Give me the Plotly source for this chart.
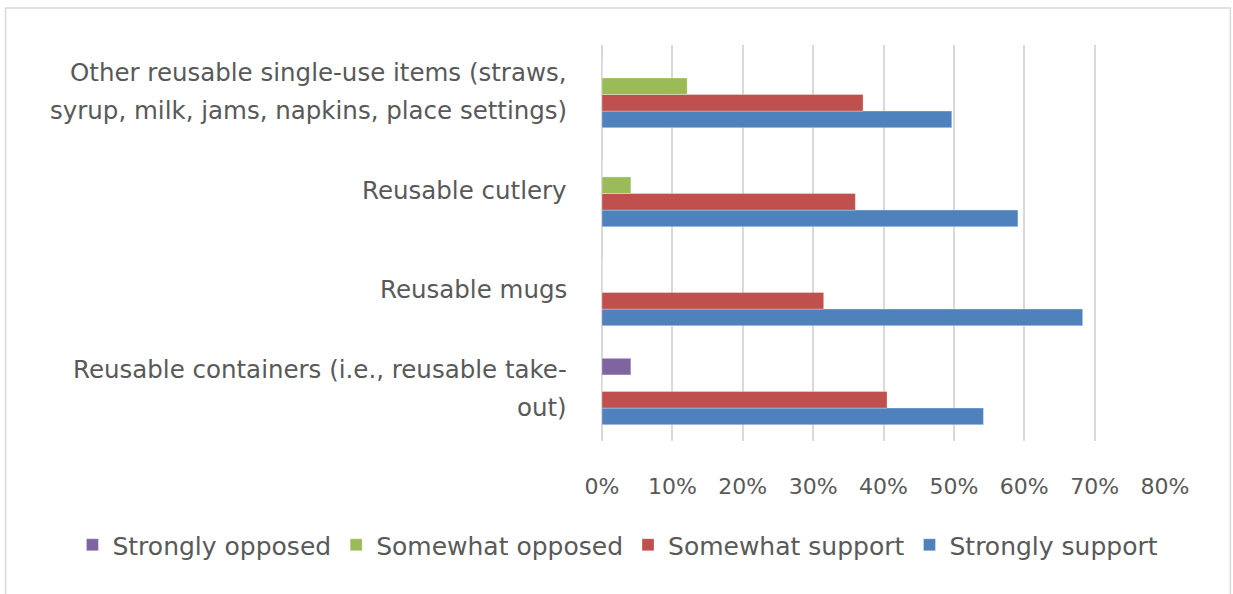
import plotly.graph_objects as go

# Survey items, listed bottom to top as they appear on the axis
categories = [
    "Reusable containers (i.e., reusable take-out)",
    "Reusable mugs",
    "Reusable cutlery",
    "Other reusable single-use items (straws, syrup, milk, jams, napkins, place settings)",
]
# How each category label wraps onto lines
label_lines = [
    ["Reusable containers (i.e., reusable take-", "out)"],
    ["Reusable mugs"],
    ["Reusable cutlery"],
    ["Other reusable single-use items (straws,", "syrup, milk, jams, napkins, place settings)"],
]

strongly_support = [0.542, 0.683, 0.591, 0.497]
somewhat_support = [0.405, 0.315, 0.360, 0.371]
somewhat_opposed = [0.0, 0.0, 0.041, 0.121]
strongly_opposed = [0.041, 0.0, 0.0, 0.0]

x_ticks = [0, 0.1, 0.2, 0.3, 0.4, 0.5, 0.6, 0.7, 0.8]

series = [
    ("Strongly support", strongly_support, "#4F81BD"),
    ("Somewhat support", somewhat_support, "#C0504D"),
    ("Somewhat opposed", somewhat_opposed, "#9BBB59"),
    ("Strongly opposed", strongly_opposed, "#8064A2"),
]

FONT = "DejaVu Sans"
TEXT = "#595959"
GRID = "#D9D9D9"
LABEL_SIZE = 24.5
LEGEND_SIZE = 25
TICK_SIZE = 22

fig = go.Figure()
for name, vals, color in series:
    fig.add_trace(go.Bar(
        y=categories, x=vals, name=name, orientation="h",
        marker=dict(color=color, line=dict(width=0.6, color="rgba(255,255,255,0.5)")),
    ))

# Category labels, one annotation per wrapped line
line_gap = 38
for cat, lines in zip(categories, label_lines):
    n = len(lines)
    for i, txt in enumerate(lines):
        offset = ((n - 1) / 2 - i) * line_gap + 3
        fig.add_annotation(
            x=0, xref="paper", xanchor="right", xshift=-33,
            y=cat, yref="y", yshift=offset, yanchor="middle",
            text=txt, showarrow=False,
            font=dict(family=FONT, size=LABEL_SIZE, color=TEXT),
        )

# Light outer frame of the chart area
L, R, T, B = 601.5, 1165.5, 45, 441
W, H = R - L, B - T
fig.add_shape(
    type="rect", xref="paper", yref="paper",
    x0=(4 - L) / W, x1=(1231 - L) / W,
    y0=(B - 610) / H, y1=(B - 8) / H,
    line=dict(color=GRID, width=1.5), layer="below",
)

fig.update_layout(
    width=1233, height=594,
    margin=dict(l=L, r=1233 - R, t=T, b=594 - B),
    paper_bgcolor="white", plot_bgcolor="white",
    barmode="group", bargap=0.33, bargroupgap=0,
    font=dict(family=FONT, size=LABEL_SIZE, color=TEXT),
    showlegend=True,
    legend=dict(
        orientation="h", traceorder="reversed",
        x=(71 - L) / W, xanchor="left",
        y=(B - 545) / H, yanchor="middle",
        font=dict(family=FONT, size=LEGEND_SIZE, color=TEXT),
        itemwidth=30, bgcolor="rgba(0,0,0,0)",
    ),
    xaxis=dict(
        range=[0, 0.8], tickvals=x_ticks, tickformat=".0%",
        showgrid=True, gridcolor=GRID, gridwidth=1.5,
        zeroline=True, zerolinecolor=GRID, zerolinewidth=1.5,
        showline=False, ticks="", ticklabelstandoff=30,
        tickfont=dict(family=FONT, size=TICK_SIZE, color=TEXT),
    ),
    yaxis=dict(
        categoryorder="array", categoryarray=categories,
        showticklabels=False, showgrid=False, showline=False,
        zeroline=False, ticks="",
    ),
)

fig.write_html("out.html")
